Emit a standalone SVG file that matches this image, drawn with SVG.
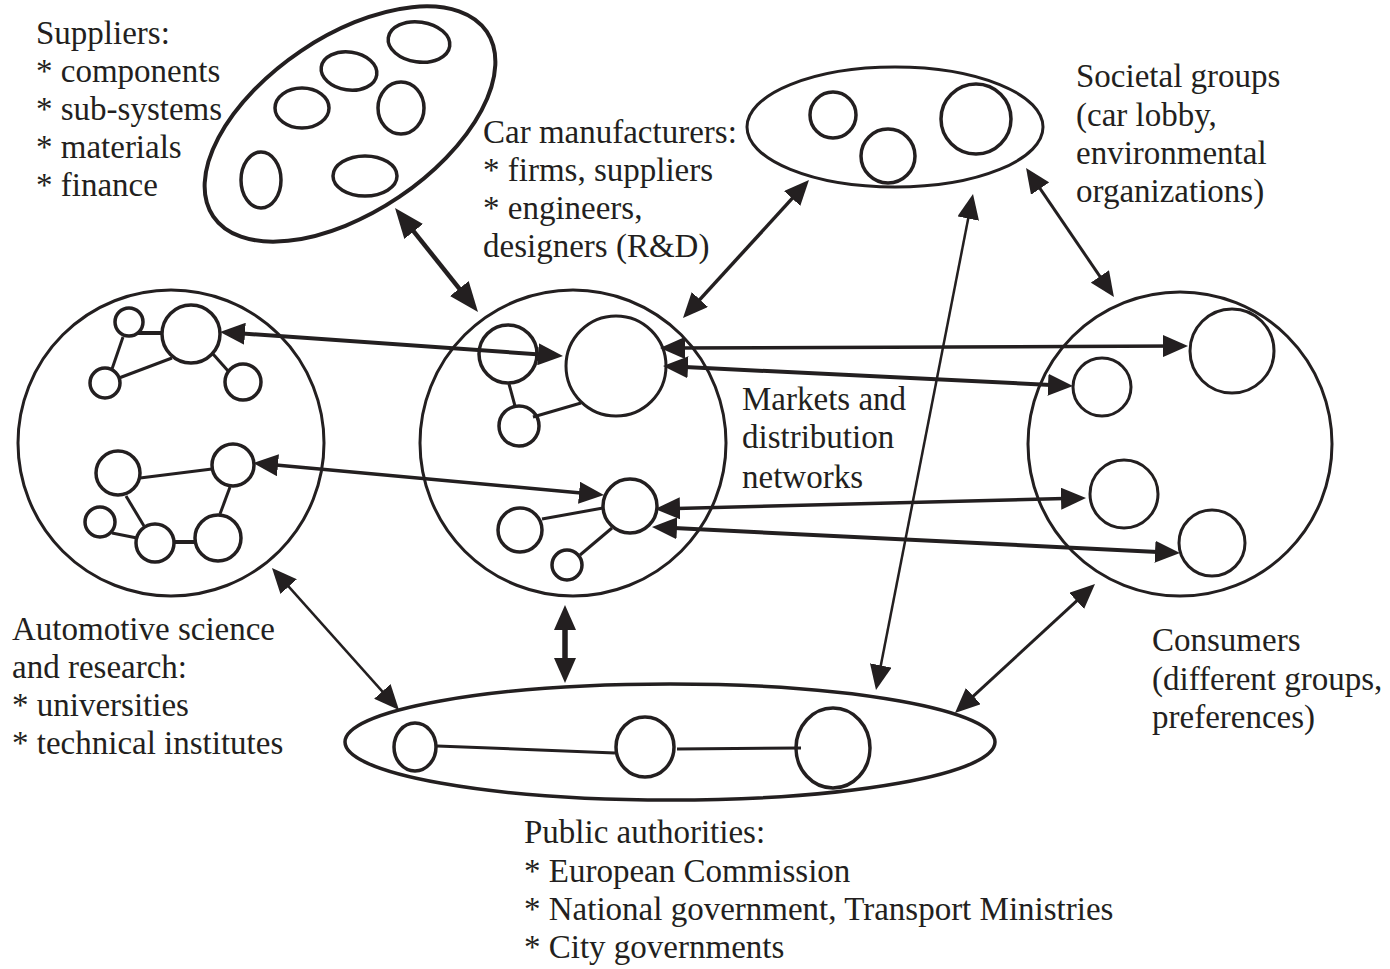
<svg xmlns="http://www.w3.org/2000/svg" width="1390" height="969" viewBox="0 0 1390 969">
<style>
.o{fill:none;stroke:#231f20;stroke-width:3}
.n{fill:none;stroke:#231f20;stroke-width:3.5}
.e{stroke:#231f20;stroke-width:3;fill:none}
.t{font-family:"Liberation Serif","Times New Roman",serif;font-size:33px;fill:#231f20}
.c{stroke:#231f20;fill:none}
</style>
<defs>
<marker id="ah" viewBox="0 0 25 22" markerWidth="25" markerHeight="22" refX="13" refY="11" orient="auto-start-reverse" markerUnits="userSpaceOnUse"><path d="M0,0 L25,11 L0,22 z" fill="#231f20"/></marker>
<marker id="ahb" viewBox="0 0 30 24" markerWidth="30" markerHeight="24" refX="18" refY="12" orient="auto-start-reverse" markerUnits="userSpaceOnUse"><path d="M0,0 L30,12 L0,24 z" fill="#231f20"/></marker>
</defs>
<rect width="1390" height="969" fill="#fff"/>

<g id="suppliers">
<ellipse class="o" cx="350" cy="124" rx="165" ry="88" transform="rotate(-34 350 124)" style="stroke-width:4"/>
<ellipse class="n" cx="419" cy="42" rx="31" ry="20" transform="rotate(8 419 42)"/>
<ellipse class="n" cx="349" cy="71" rx="28" ry="19" transform="rotate(8 349 71)"/>
<ellipse class="n" cx="302" cy="108" rx="27" ry="20"/>
<ellipse class="n" cx="401" cy="108" rx="23" ry="26"/>
<ellipse class="n" cx="261" cy="180" rx="20" ry="28"/>
<ellipse class="n" cx="365" cy="176" rx="32" ry="20"/>
<text class="t" x="36" y="44">Suppliers:</text>
<text class="t" x="36" y="82">* components</text>
<text class="t" x="36" y="120">* sub-systems</text>
<text class="t" x="36" y="158">* materials</text>
<text class="t" x="36" y="196">* finance</text>
</g>

<g id="science">
<circle class="o" cx="171" cy="443" r="153"/>
<g class="e">
<line x1="138" y1="333" x2="162" y2="333" style="stroke-width:4"/>
<line x1="123" y1="337" x2="112" y2="369"/>
<line x1="119" y1="378" x2="172" y2="358"/>
<line x1="213" y1="354" x2="229" y2="372"/>
<line x1="140" y1="478" x2="212" y2="469"/>
<line x1="126" y1="496" x2="144" y2="526"/>
<line x1="112" y1="533" x2="137" y2="538"/>
<line x1="174" y1="542" x2="197" y2="542" style="stroke-width:4"/>
<line x1="230" y1="487" x2="220" y2="514"/>
</g>
<circle class="n" cx="129" cy="322" r="14"/>
<circle class="n" cx="191" cy="334" r="29"/>
<circle class="n" cx="105" cy="383" r="15"/>
<circle class="n" cx="243" cy="382" r="18"/>
<circle class="n" cx="118" cy="473" r="22"/>
<circle class="n" cx="233" cy="465" r="21"/>
<circle class="n" cx="100" cy="522" r="15"/>
<circle class="n" cx="155" cy="543" r="19"/>
<circle class="n" cx="218" cy="538" r="23"/>
<text class="t" x="12" y="640">Automotive science</text>
<text class="t" x="12" y="678">and research:</text>
<text class="t" x="12" y="716">* universities</text>
<text class="t" x="12" y="754">* technical institutes</text>
</g>

<g id="manufacturers">
<circle class="o" cx="573" cy="443" r="153"/>
<g class="e">
<line x1="509" y1="384" x2="515" y2="406"/>
<line x1="533" y1="417" x2="581" y2="403"/>
<line x1="542" y1="519" x2="603" y2="508"/>
<line x1="612" y1="528" x2="580" y2="555"/>
</g>
<circle class="n" cx="508" cy="354" r="29"/>
<circle class="n" cx="616" cy="366" r="50" style="stroke-width:3"/>
<circle class="n" cx="519" cy="426" r="20"/>
<circle class="n" cx="630" cy="506" r="27"/>
<circle class="n" cx="520" cy="530" r="22"/>
<circle class="n" cx="567" cy="565" r="15"/>
<text class="t" x="483" y="143">Car manufacturers:</text>
<text class="t" x="483" y="181">* firms, suppliers</text>
<text class="t" x="483" y="219">* engineers,</text>
<text class="t" x="483" y="257">designers (R&amp;D)</text>
<text class="t" x="742" y="410">Markets and</text>
<text class="t" x="742" y="448">distribution</text>
<text class="t" x="742" y="488">networks</text>
</g>

<g id="societal">
<ellipse class="o" cx="895" cy="127" rx="148" ry="60"/>
<circle class="n" cx="833" cy="115" r="23"/>
<circle class="n" cx="888" cy="156" r="27"/>
<circle class="n" cx="976" cy="119" r="35"/>
<text class="t" x="1076" y="87">Societal groups</text>
<text class="t" x="1076" y="126">(car lobby,</text>
<text class="t" x="1076" y="164">environmental</text>
<text class="t" x="1076" y="202">organizations)</text>
</g>

<g id="consumers">
<circle class="o" cx="1180" cy="444" r="152"/>
<circle class="n" cx="1232" cy="351" r="42" style="stroke-width:3"/>
<circle class="n" cx="1102" cy="387" r="29" style="stroke-width:3"/>
<circle class="n" cx="1124" cy="494" r="34" style="stroke-width:3"/>
<circle class="n" cx="1212" cy="543" r="33" style="stroke-width:3"/>
<text class="t" x="1152" y="651">Consumers</text>
<text class="t" x="1152" y="690">(different groups,</text>
<text class="t" x="1152" y="728">preferences)</text>
</g>

<g id="public">
<ellipse class="o" cx="670" cy="742" rx="325" ry="58" style="stroke-width:3.5"/>
<g class="e">
<line x1="437" y1="746" x2="615" y2="753"/>
<line x1="677" y1="749" x2="801" y2="748"/>
</g>
<ellipse class="n" cx="415" cy="747" rx="21" ry="24"/>
<ellipse class="n" cx="645" cy="747" rx="29" ry="30"/>
<ellipse class="n" cx="833" cy="748" rx="37" ry="40"/>
<text class="t" x="524" y="843">Public authorities:</text>
<text class="t" x="524" y="882">* European Commission</text>
<text class="t" x="524" y="920">* National government, Transport Ministries</text>
<text class="t" x="524" y="958">* City governments</text>
</g>

<g id="connectors" class="c">
<line x1="402.5" y1="217.4" x2="470.5" y2="302.6" stroke-width="4.5" marker-start="url(#ahb)" marker-end="url(#ahb)"/>
<line x1="691.1" y1="309.1" x2="800.9" y2="188.9" stroke-width="3.5" marker-start="url(#ah)" marker-end="url(#ah)"/>
<line x1="1032.8" y1="177.9" x2="1107.2" y2="287.1" stroke-width="3" marker-start="url(#ah)" marker-end="url(#ah)"/>
<line x1="970.7" y1="205.8" x2="878.3" y2="678.2" stroke-width="2.5" marker-start="url(#ah)" marker-end="url(#ah)"/>
<line x1="280" y1="576.9" x2="391" y2="701.1" stroke-width="2.5" marker-start="url(#ah)" marker-end="url(#ah)"/>
<line x1="1086.2" y1="592.1" x2="963.8" y2="704.9" stroke-width="3" marker-start="url(#ah)" marker-end="url(#ah)"/>
<line x1="565" y1="617" x2="565" y2="671" stroke-width="5.5" marker-start="url(#ah)" marker-end="url(#ah)"/>
<line x1="232" y1="332.8" x2="551" y2="355.2" stroke-width="4" marker-start="url(#ah)" marker-end="url(#ah)"/>
<line x1="265" y1="464.1" x2="592" y2="493.9" stroke-width="3.5" marker-start="url(#ah)" marker-end="url(#ah)"/>
<line x1="672" y1="348" x2="1176" y2="346" stroke-width="3.5" marker-start="url(#ah)" marker-end="url(#ah)"/>
<line x1="675" y1="366.6" x2="1061" y2="385.4" stroke-width="4" marker-start="url(#ah)" marker-end="url(#ah)"/>
<line x1="667" y1="508.7" x2="1074" y2="498.3" stroke-width="3.5" marker-start="url(#ah)" marker-end="url(#ah)"/>
<line x1="664" y1="527.6" x2="1168" y2="552.4" stroke-width="4" marker-start="url(#ah)" marker-end="url(#ah)"/>
</g>
</svg>
